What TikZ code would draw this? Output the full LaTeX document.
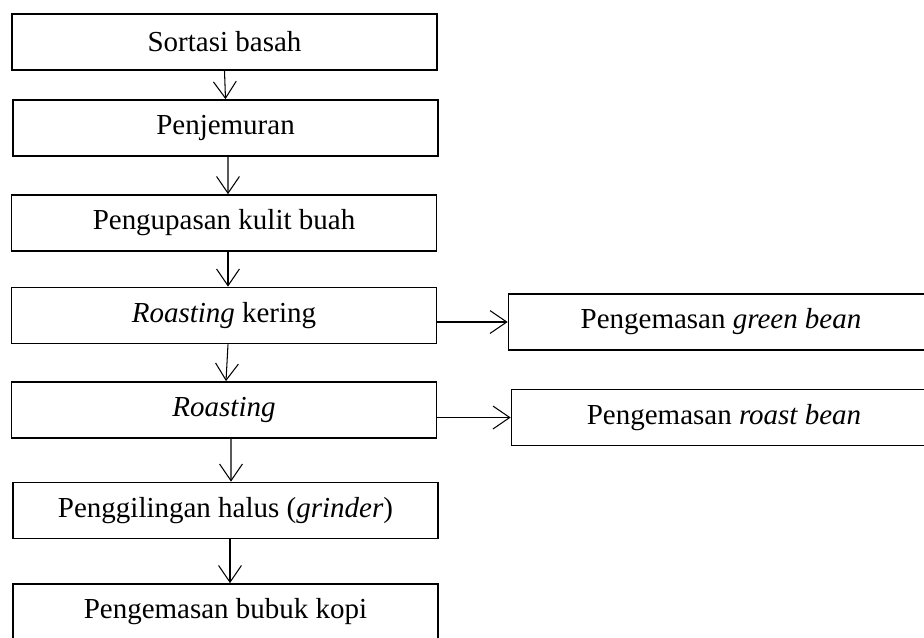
\documentclass[tikz,border=0pt]{standalone}
\usepackage{fontspec}
\setmainfont{Liberation Serif}
\usetikzlibrary{arrows.meta}
\begin{document}
\begin{tikzpicture}[x=0.02cm,y=-0.02cm,
  every node/.style={font=\fontsize{16.5}{19}\selectfont},
  stepbox/.style={draw,line width=1pt,minimum width=8.5cm,minimum height=1.12cm,inner sep=0pt},
  arr/.style={-{Straight Barb[length=9.5pt,width=13pt]},line width=0.6pt}]
\useasboundingbox (0,0) rectangle (924,637);
\clip (0,0) rectangle (924,637);
% main column
\node[stepbox] (sortasi) at (224.5,42) {Sortasi basah};
\node[stepbox] (jemur) at (225.5,128) {Penjemuran};
\node[stepbox] (kupas) at (224,223) {Pengupasan kulit buah};
\node[stepbox] (kering) at (224,315.5) {\textit{Roasting} kering};
\node[stepbox] (roast) at (224,410) {\textit{Roasting}};
\node[stepbox] (giling) at (225.5,510.5) {Penggilingan halus (\textit{grinder})};
\node[stepbox] (bubuk) at (225.5,612) {Pengemasan bubuk kopi};
% side products
\node[stepbox] (green) at (721,322) {Pengemasan \textit{green bean}};
\node[stepbox] (roastbean) at (724,417.5) {Pengemasan \textit{roast bean}};
% arrows
\draw[arr] (sortasi.south) -- (jemur.north);
\draw[arr] ([xshift=0.05cm]jemur.south) -- ([xshift=0.08cm]kupas.north);
\draw[arr] ([xshift=0.08cm]kupas.south) -- ([xshift=0.08cm]kering.north);
\draw[arr] ([xshift=0.08cm]kering.south) -- ([xshift=0.04cm]roast.north);
\draw[arr] ([xshift=0.14cm]roast.south) -- ([xshift=0.11cm]giling.north);
\draw[arr] ([xshift=0.09cm]giling.south) -- ([xshift=0.09cm]bubuk.north);
\draw[arr] (kering.east |- green.west) -- (green.west);
\draw[arr] (roast.east |- roastbean.west) -- (roastbean.west);
\end{tikzpicture}
\end{document}
